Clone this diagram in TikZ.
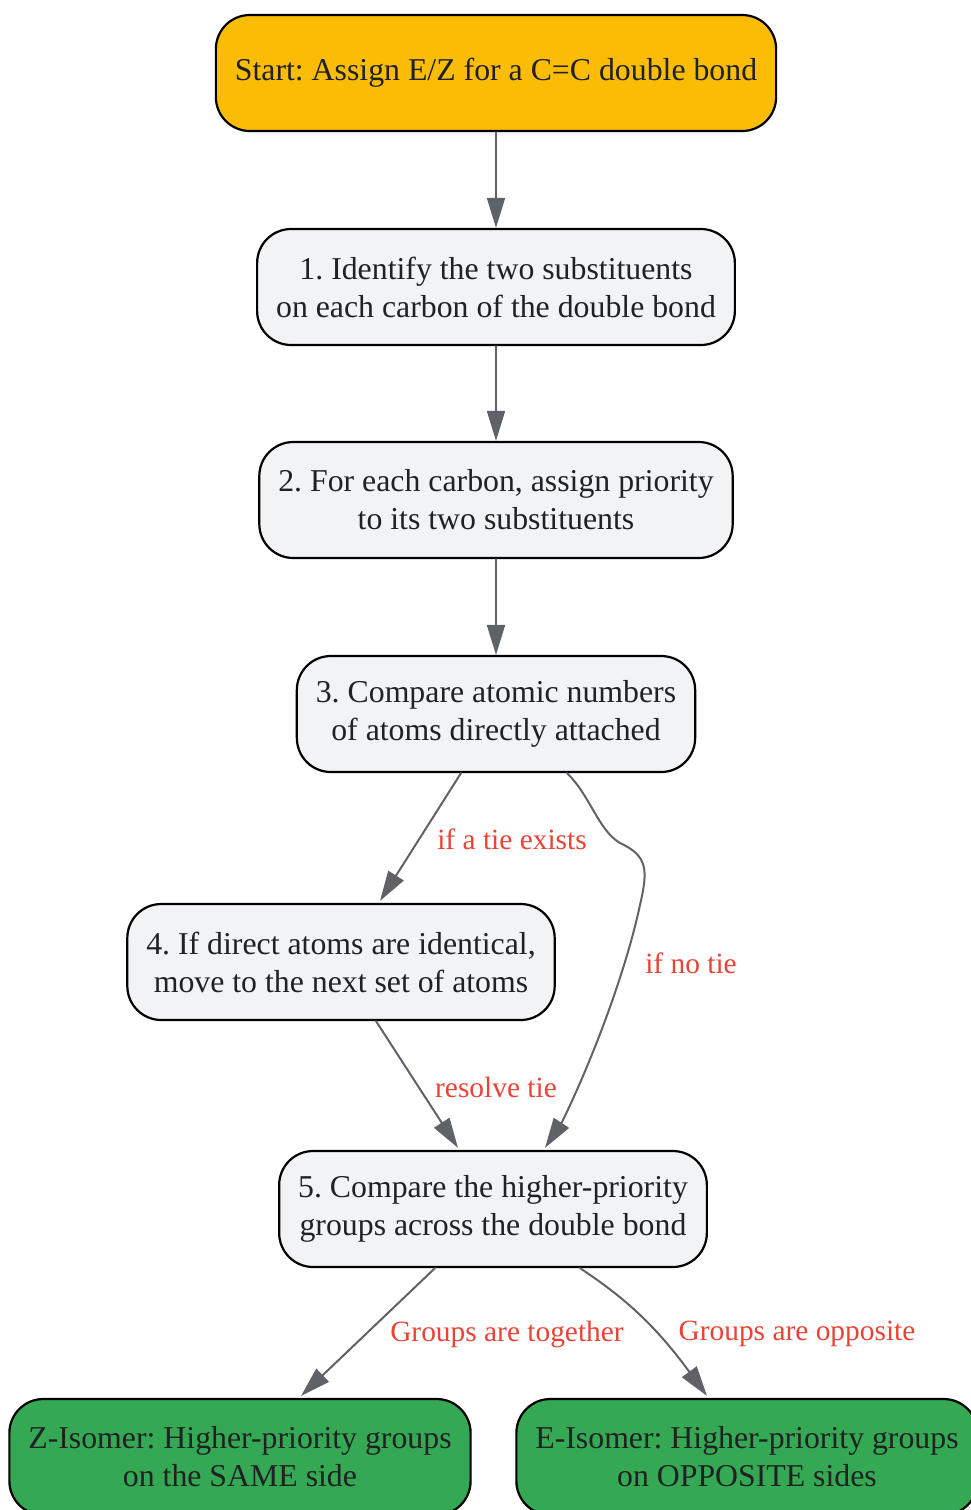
\documentclass[tikz,border=0pt]{standalone}
\usepackage{fontspec}
\setmainfont{Liberation Serif}
\frenchspacing
\usetikzlibrary{arrows.meta, calc}
\definecolor{startfill}{HTML}{FBBC05}
\definecolor{stepfill}{HTML}{F1F3F4}
\definecolor{endfill}{HTML}{34A853}
\definecolor{edgegray}{HTML}{5F6368}
\definecolor{labelred}{HTML}{EA4335}
\definecolor{textgray}{HTML}{202124}
\tikzset{
  box/.style={draw=black, line width=1.1pt, rounded corners=17pt, align=center, text=textgray,
    minimum height=58pt, inner xsep=9.5pt, font=\fontsize{15.9}{19}\selectfont},
  flow/.style={draw=edgegray, line width=1pt, -{Triangle[length=15pt, width=9pt]}},
  elabel/.style={text=labelred, font=\fontsize{14.7}{18}\selectfont}
}
\begin{document}
\begin{tikzpicture}[x=0.5pt, y=-0.5pt, line cap=round, line join=round]
	\useasboundingbox (0, 0) rectangle (970, 1510);
	% Start
	\node [box, fill=startfill] (node-0) at (496, 73) {Start: Assign E/Z for a C=C double bond};
	% Steps
	\node [box, fill=stepfill] (node-1) at (496, 287) {1. Identify the two substituents\\on each carbon of the double bond};
	\node [box, fill=stepfill] (node-2) at (496, 500) {2. For each carbon, assign priority\\to its two substituents};
	\node [box, fill=stepfill] (node-3) at (496, 714) {3. Compare atomic numbers\\of atoms directly attached};
	\node [box, fill=stepfill] (node-4) at (341, 962) {4. If direct atoms are identical,\\move to the next set of atoms};
	\node [box, fill=stepfill] (node-5) at (493, 1209) {5. Compare the higher-priority\\groups across the double bond};
	% Results
	\node [box, fill=endfill] (node-z) at (240, 1457) {Z-Isomer: Higher-priority groups\\on the SAME side};
	\node [box, fill=endfill] (node-e) at (747, 1457) {E-Isomer: Higher-priority groups\\on OPPOSITE sides};
	% Straight arrows
	\foreach \a [count=\x from 0] in {1, 2, 3}
		\draw [flow] (node-\x) -- (node-\a);
	% Tie arrows
	\draw [flow] ($(node-3.south)+(-35, 0)$) -- ($(node-4.north)+(39, -2)$)
		node [elabel] at (512, 839) {if a tie exists};
	\draw [flow] ($(node-3.south)+(71, 0)$) .. controls (590, 795) and (598, 830) .. (620, 843)
		.. controls (648, 856) and (648, 870) .. (640, 905)
		.. controls (625, 975) and (590, 1065) .. (562, 1122) -- ($(node-5.north)+(52, -2)$)
		node [elabel] at (691, 963) {if no tie};
	\draw [flow] ($(node-4.south)+(35, 0)$) -- ($(node-5.north)+(-35, -2)$)
		node [elabel] at (496, 1087) {resolve tie};
	% Result arrows
	\draw [flow] ($(node-5.south)+(-58, 0)$) -- ($(node-z.north)+(61, -2)$)
		node [elabel] at (507, 1334) {Groups are together};
	\draw [flow] ($(node-5.south)+(87, 0)$) .. controls (625, 1298) and (655, 1325) .. ($(node-e.north)+(-40, -2)$)
		node [elabel] at (797, 1334) {Groups are opposite};
\end{tikzpicture}
\end{document}
